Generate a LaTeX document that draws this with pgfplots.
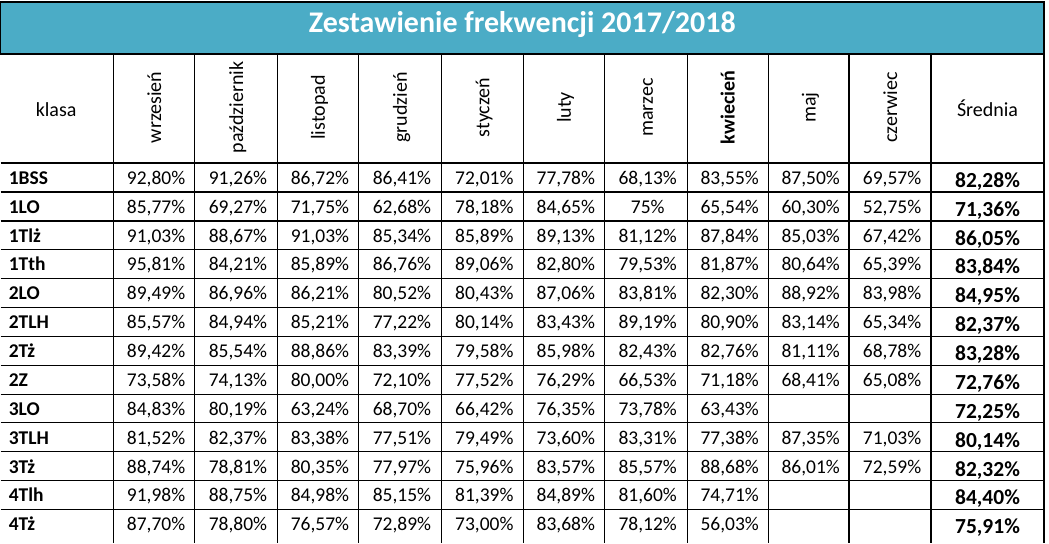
\documentclass[border=0pt]{standalone}
\usepackage{pgfplots}
\pgfplotsset{compat=1.18}
\usepackage{pgfplotstable}
\usepackage{fontspec}
\setmainfont{Carlito}
\definecolor{titleblue}{HTML}{4BACC6}

\pgfplotstableread[col sep=comma]{
klasa,w,p,l,g,s,lu,m,k,maj,c,sr
1BSS,92.80,91.26,86.72,86.41,72.01,77.78,68.13,83.55,87.50,69.57,82.28
1LO,85.77,69.27,71.75,62.68,78.18,84.65,75,65.54,60.30,52.75,71.36
1Tlż,91.03,88.67,91.03,85.34,85.89,89.13,81.12,87.84,85.03,67.42,86.05
1Tth,95.81,84.21,85.89,86.76,89.06,82.80,79.53,81.87,80.64,65.39,83.84
2LO,89.49,86.96,86.21,80.52,80.43,87.06,83.81,82.30,88.92,83.98,84.95
2TLH,85.57,84.94,85.21,77.22,80.14,83.43,89.19,80.90,83.14,65.34,82.37
2Tż,89.42,85.54,88.86,83.39,79.58,85.98,82.43,82.76,81.11,68.78,83.28
2Z,73.58,74.13,80.00,72.10,77.52,76.29,66.53,71.18,68.41,65.08,72.76
3LO,84.83,80.19,63.24,68.70,66.42,76.35,73.78,63.43,,,72.25
3TLH,81.52,82.37,83.38,77.51,79.49,73.60,83.31,77.38,87.35,71.03,80.14
3Tż,88.74,78.81,80.35,77.97,75.96,83.57,85.57,88.68,86.01,72.59,82.32
4Tlh,91.98,88.75,84.98,85.15,81.39,84.89,81.60,74.71,,,84.40
4Tż,87.70,78.80,76.57,72.89,73.00,83.68,78.12,56.03,,,75.91
}\frekw

\makeatletter
\def\mycell{\edef\my@meta{\pgfplotspointmeta}\expandafter\mycell@a\my@meta..\relax}
\def\mycell@a#1.#2.#3\relax{\ifx\relax#1\relax\else\ifx\relax#2\relax#1\%\else#1,#2\%\fi\fi}
\makeatother

\pgfplotsset{
  cell/.style={draw=none, mark=none, point meta=explicit symbolic,
    nodes near coords={\mycell}, nodes near coords align=center,
    every node near coord/.append style={anchor=base, inner sep=0pt,
      font=\fontsize{19.5}{20}\selectfont, text=black}},
}

\begin{document}
\begin{tikzpicture}
\begin{axis}[
  width=1049pt, height=543pt, scale only axis,
  xmin=0, xmax=1049, ymin=0, ymax=543, y dir=reverse,
  axis lines=none, ticks=none, clip=false,
  unbounded coords=jump,
]
% white page
\addplot[fill=white, draw=none] coordinates {(0,0)(1049,0)(1049,543)(0,543)} -- cycle;
% grid lines
\addplot[black, line width=1.3pt] table {
x y
0 163
1044 163
nan nan
0 192
1044 192
nan nan
0 221
1044 221
nan nan
0 250
1044 250
nan nan
0 279
1044 279
nan nan
0 308
1044 308
nan nan
0 337
1044 337
nan nan
0 366
1044 366
nan nan
0 395
1044 395
nan nan
0 423
1044 423
nan nan
0 452
1044 452
nan nan
0 481
1044 481
nan nan
0 510
1044 510
nan nan
113 54
113 543
nan nan
194 54
194 543
nan nan
277 54
277 543
nan nan
358 54
358 543
nan nan
441 54
441 543
nan nan
523 54
523 543
nan nan
604 54
604 543
nan nan
687 54
687 543
nan nan
768 54
768 543
nan nan
849 54
849 543
nan nan
931 54
931 543
nan nan
1044 54
1044 543
};
% title bar
\addplot[fill=titleblue, draw=black, line width=1.3pt] coordinates {(0,2)(1044,2)(1044,54)(0,54)} -- cycle;
\node[anchor=base, text=white, font=\fontsize{30}{31}\selectfont\bfseries] at (axis cs:522,32.5) {Zestawienie frekwencji 2017/2018};

% header
\node[anchor=base, font=\fontsize{20}{21}\selectfont] at (axis cs:55.5,117) {klasa};
\node[anchor=base, font=\fontsize{20}{21}\selectfont] at (axis cs:987.5,117) {Średnia};
\begin{scope}[every node/.style={anchor=base, rotate=90, font=\fontsize{20}{21}\selectfont}]
\node at (axis cs:160.5,107.5) {wrzesień};
\node at (axis cs:242.5,107.5) {październik};
\node at (axis cs:324.5,107.5) {listopad};
\node at (axis cs:406.5,107.5) {grudzień};
\node at (axis cs:489,107.5) {styczeń};
\node at (axis cs:570.5,107.5) {luty};
\node at (axis cs:652.5,107.5) {marzec};
\node[font=\fontsize{20}{21}\selectfont\bfseries] at (axis cs:734.5,107.5) {kwiecień};
\node at (axis cs:815.5,107.5) {maj};
\node at (axis cs:897,107.5) {czerwiec};
\end{scope}

% class names
\addplot[draw=none, mark=none, point meta=explicit symbolic,
  nodes near coords={\pgfplotspointmeta}, nodes near coords align=center,
  every node near coord/.append style={anchor=base west, inner sep=0pt,
    font=\fontsize{19.5}{20}\selectfont\bfseries}]
  table[x expr=8, y expr={163+28.9*(\coordindex+1)-7.5}, meta=klasa] {\frekw};

% monthly values
\addplot[cell] table[x expr=155.5, y expr={163+28.9*(\coordindex+1)-7.5}, meta=w] {\frekw};
\addplot[cell] table[x expr=237.5, y expr={163+28.9*(\coordindex+1)-7.5}, meta=p] {\frekw};
\addplot[cell] table[x expr=319.5, y expr={163+28.9*(\coordindex+1)-7.5}, meta=l] {\frekw};
\addplot[cell] table[x expr=401.5, y expr={163+28.9*(\coordindex+1)-7.5}, meta=g] {\frekw};
\addplot[cell] table[x expr=484, y expr={163+28.9*(\coordindex+1)-7.5}, meta=s] {\frekw};
\addplot[cell] table[x expr=565.5, y expr={163+28.9*(\coordindex+1)-7.5}, meta=lu] {\frekw};
\addplot[cell] table[x expr=647.5, y expr={163+28.9*(\coordindex+1)-7.5}, meta=m] {\frekw};
\addplot[cell] table[x expr=729.5, y expr={163+28.9*(\coordindex+1)-7.5}, meta=k] {\frekw};
\addplot[cell] table[x expr=810.5, y expr={163+28.9*(\coordindex+1)-7.5}, meta=maj] {\frekw};
\addplot[cell] table[x expr=892, y expr={163+28.9*(\coordindex+1)-7.5}, meta=c] {\frekw};
% average
\addplot[cell, every node near coord/.append style={font=\fontsize{21.5}{22}\selectfont\bfseries}]
  table[x expr=987.5, y expr={163+28.9*(\coordindex+1)-4.5}, meta=sr] {\frekw};
\end{axis}
\end{tikzpicture}
\end{document}
